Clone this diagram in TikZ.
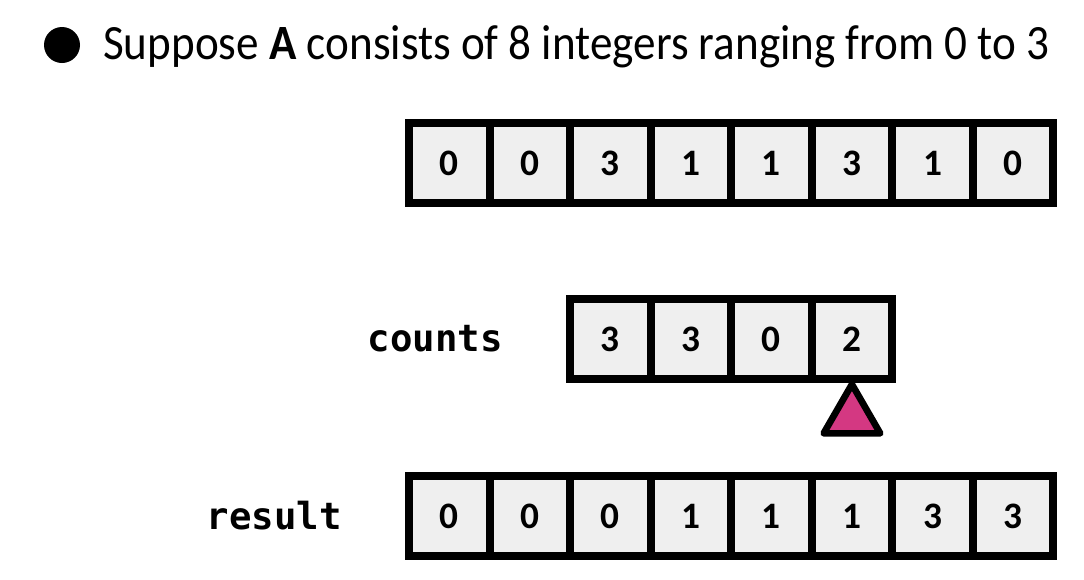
\documentclass[tikz,border=0pt]{standalone}
\usepackage{fontspec}
\setmainfont{Carlito}
\newfontfamily\monofont{DejaVu Sans Mono}
\usetikzlibrary{positioning}
\usetikzlibrary{shapes.geometric}
\definecolor{cellgray}{RGB}{239,239,239}
\definecolor{markpink}{RGB}{212,56,130}

\tikzset{
  cell/.style={draw, fill=cellgray, line width=6pt, minimum width=60.4pt, minimum height=60pt,
    inner sep=0pt, outer sep=0pt, font=\fontsize{28}{30}\selectfont\bfseries},
  lbl/.style={font=\monofont\fontsize{28}{30}\selectfont\bfseries},
}

\begin{document}
\begin{tikzpicture}[x=0.75pt, y=-0.75pt, node distance=0pt]
\useasboundingbox (0,0) rectangle (1084,579);
\node[circle, fill, minimum size=27pt, inner sep=0pt] (dot) at (62,45) {};
\node[anchor=west, font=\fontsize{37}{40}\selectfont, inner sep=0pt] (title) at (103,47)
  {\scalebox{0.915}[1]{Suppose \textbf{A} consists of 8 integers ranging from 0 to 3}};

% array A
\node[cell] (a1) at (449.25,163) {0};
\foreach \v [count=\i from 2] in {0,3,1,1,3,1,0} {
  \pgfmathtruncatemacro\j{\i-1}
  \node[cell, right=of a\j] (a\i) {\v};
}

% counts
\node[cell, below=72pt of a3] (c1) {3};
\foreach \v [count=\i from 2] in {3,0,2} {
  \pgfmathtruncatemacro\j{\i-1}
  \node[cell, right=of c\j] (c\i) {\v};
}
\node[lbl, left=47pt of c1] (cntlbl) {counts};

% result
\node[cell, below=204.75pt of a1] (r1) {0};
\foreach \v [count=\i from 2] in {0,0,1,1,1,3,3} {
  \pgfmathtruncatemacro\j{\i-1}
  \node[cell, right=of r\j] (r\i) {\v};
}
\node[lbl, left=47pt of r1] (reslbl) {result};

% pointer
\node[regular polygon, regular polygon sides=3, draw, fill=markpink, line width=5pt,
  line join=round, minimum size=49pt, inner sep=0pt, anchor=corner 1]
  (ptr) at ([yshift=1pt]c4.south) {};
\end{tikzpicture}
\end{document}
